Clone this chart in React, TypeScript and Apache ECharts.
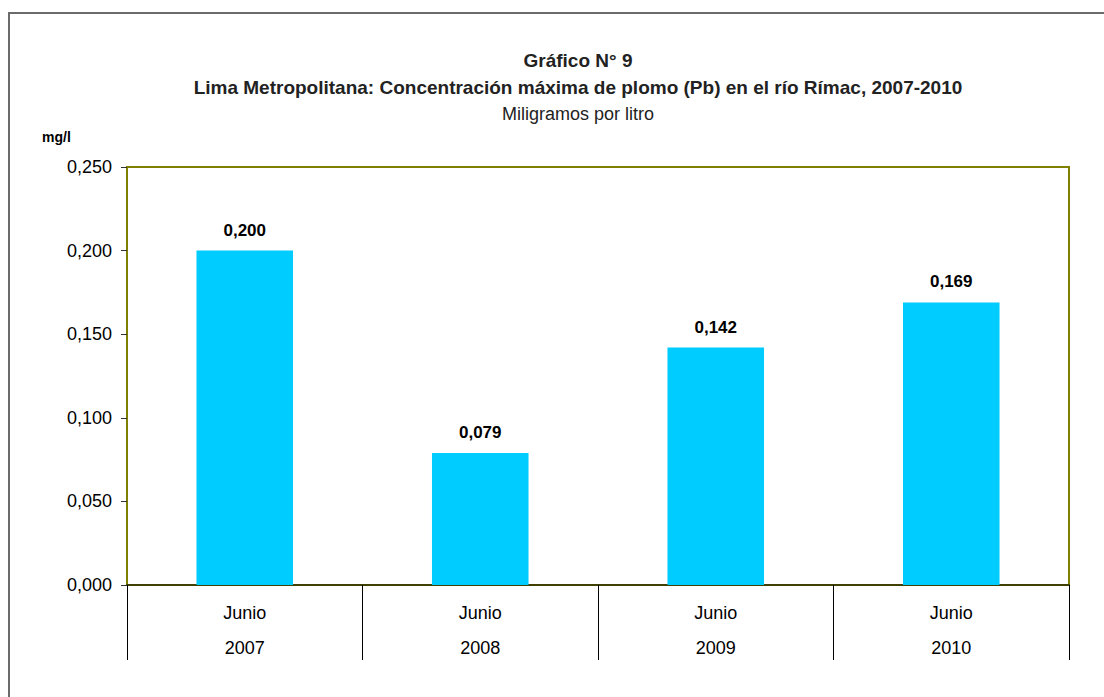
import React, { useEffect, useRef } from "react";
import * as echarts from "echarts";

const months = ["Junio", "Junio", "Junio", "Junio"];
const years = ["2007", "2008", "2009", "2010"];
const values = [0.2, 0.079, 0.142, 0.169];
const yTicks = { min: 0, max: 0.25, interval: 0.05 };

const titleMain = "Gráfico N° 9";
const titleSub = "Lima Metropolitana: Concentración máxima de plomo (Pb) en el río Rímac, 2007-2010";
const titleUnit = "Miligramos por litro";
const yUnit = "mg/l";

const FONT = '"Liberation Sans", Arial, sans-serif';
const fmt = (v: number) => v.toFixed(3).replace(".", ",");

export default function App() {
  const ref = useRef<HTMLDivElement>(null);
  useEffect(() => {
    document.body.style.margin = "0";
    const chart = echarts.init(ref.current!, undefined, { renderer: "svg" });
    chart.setOption({
      animation: false,
      backgroundColor: "#ffffff",
      textStyle: { fontFamily: FONT },
      grid: {
        left: 127,
        top: 167,
        width: 942,
        height: 418,
        show: true,
        borderColor: "#808000",
        borderWidth: 2,
        backgroundColor: "transparent",
      },
      xAxis: {
        type: "category",
        data: years.map((y, i) => `${months[i]} ${y}`),
        axisLine: { show: true, lineStyle: { color: "#404000", width: 2 } },
        axisTick: { show: true, length: 75, interval: 0, lineStyle: { color: "#000", width: 1 } },
        axisLabel: {
          interval: 0,
          formatter: (_v: string, i: number) => `${months[i]}\n${years[i]}`,
          fontSize: 18,
          lineHeight: 35,
          color: "#000",
          fontFamily: FONT,
          margin: 10,
        },
        splitLine: { show: false },
      },
      yAxis: {
        type: "value",
        min: yTicks.min,
        max: yTicks.max,
        interval: yTicks.interval,
        splitLine: { show: false },
        axisLine: { show: true, lineStyle: { color: "#808000", width: 2 } },
        axisTick: { show: true, length: 6, inside: false, lineStyle: { color: "#333", width: 1 } },
        axisLabel: {
          formatter: (v: number) => fmt(v),
          fontSize: 18,
          color: "#000",
          fontFamily: FONT,
          margin: 15,
        },
      },
      series: [
        {
          type: "bar",
          data: values,
          barWidth: "41%",
          itemStyle: { color: "#00CCFF" },
          label: {
            show: true,
            position: "top",
            distance: 12,
            formatter: (p: any) => fmt(p.value),
            fontSize: 17,
            fontWeight: "bold",
            color: "#000",
            fontFamily: FONT,
          },
        },
      ],
      graphic: [
        {
          type: "rect",
          silent: true,
          shape: { x: 9, y: 13, width: 1200, height: 800 },
          style: { fill: "none", stroke: "#6b6b6b", lineWidth: 2 },
        },
        {
          type: "text",
          x: 578,
          y: 60,
          style: { text: titleMain, align: "center", verticalAlign: "middle", font: `bold 19px ${FONT}`, fill: "#222" },
        },
        {
          type: "text",
          x: 578,
          y: 87,
          style: { text: titleSub, align: "center", verticalAlign: "middle", font: `bold 19px ${FONT}`, fill: "#222" },
        },
        {
          type: "text",
          x: 578,
          y: 114,
          style: { text: titleUnit, align: "center", verticalAlign: "middle", font: `18px ${FONT}`, fill: "#222" },
        },
        {
          type: "text",
          x: 42,
          y: 137,
          style: { text: yUnit, align: "left", verticalAlign: "middle", font: `bold 14px ${FONT}`, fill: "#000" },
        },
      ],
    });
    return () => chart.dispose();
  }, []);
  return <div ref={ref} style={{ width: 1104, height: 697 }} />;
}
